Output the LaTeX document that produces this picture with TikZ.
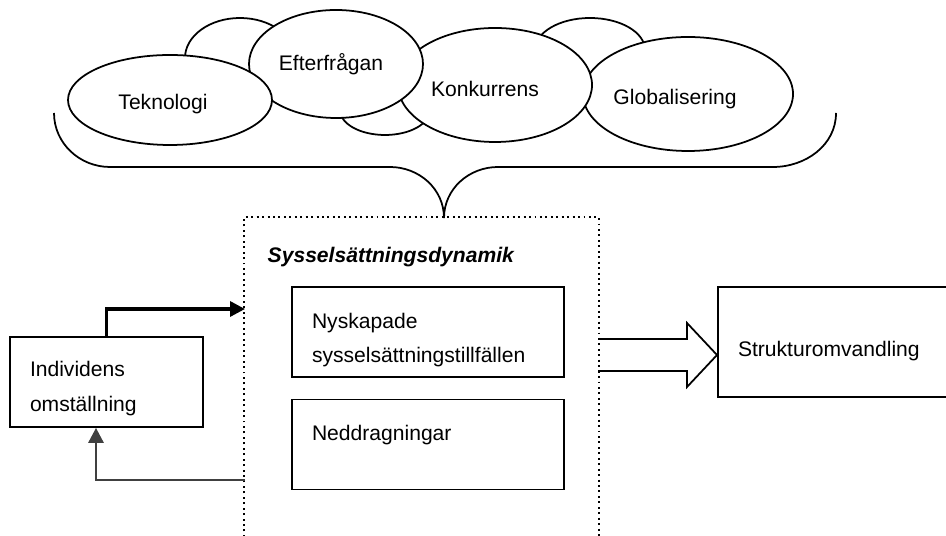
\documentclass[tikz,border=0pt]{standalone}
\usepackage{fontspec}
\setmainfont{Liberation Sans}
\usepackage{tikz}
\usetikzlibrary{arrows.meta,positioning,calc,shapes.geometric}

\begin{document}
\begin{tikzpicture}[>=Triangle, font=\fontsize{12}{19.5}\selectfont, line width=1pt,
  cloud/.style={draw, ellipse, fill=white, inner sep=0pt},
  box/.style={draw, align=left, inner xsep=0.4cm, minimum height=1.8cm}]
\useasboundingbox (0,0) rectangle (18.92,10.72);

% forces behind the brace (back ones first)
\node[cloud,minimum width=2.2cm,minimum height=1.6cm] (bak1) at (4.8,9.56) {};
\node[cloud,minimum width=1.8cm,minimum height=1.0cm] (bak2) at (7.7,8.52) {};
\node[cloud,minimum width=2.2cm,minimum height=1.28cm] (bak3) at (11.8,9.72) {};
\node[cloud,minimum width=4.2cm,minimum height=2.28cm] (glo) at (13.76,8.84) {};
\node[cloud,minimum width=3.88cm,minimum height=2.28cm] (kon) at (9.9,9.02) {};
\node[cloud,minimum width=3.48cm,minimum height=2.16cm] (eft) at (6.72,9.44) {};
\node[cloud,minimum width=4.08cm,minimum height=1.8cm] (tek) at (3.4,8.72) {};
\node (glot) at (13.5,8.74) {Globalisering};
\node (kont) at (9.7,8.94) {Konkurrens};
\node (eftt) at (6.62,9.44) {Efterfrågan};
\node (tekt) at (3.26,8.64) {Teknologi};

% brace
\draw (1.08,8.46) to[out=-90,in=180] (2.2,7.38) -- (7.8,7.38)
  to[out=0,in=90] (8.88,6.36) to[out=90,in=180] (9.96,7.38) -- (15.46,7.38)
  to[out=0,in=-90] (16.72,8.46);

% dynamics frame
\node[minimum width=7.06cm,minimum height=6.36cm,inner sep=0pt] (dyn) at (8.43,3.18) {};
\draw[dotted,line width=1.1pt] (dyn.south west) -- (dyn.north west) -- (dyn.north east) -- (dyn.south east);
\node[anchor=west,font=\fontsize{12}{19}\selectfont\bfseries\itshape] (dyntitle) at (5.22,5.58) {Sysselsättningsdynamik};
\node[box,text width=4.64cm] (nya) at (8.56,4.08) {\rule{0pt}{17.8pt}Nyskapade\\sysselsättningstillfällen};
\node[box,text width=4.64cm] (ned) at (8.56,1.83) {\rule{0pt}{14.4pt}Neddragningar\\\mbox{}};

\node[box,text width=3.06cm] (ind) at (2.13,3.08) {\rule{0pt}{16.1pt}Individens\\omställning};
\node[box,text width=4.1cm,minimum height=2.2cm] (struk) at (16.81,3.88) {\rule{0pt}{19pt}Strukturomvandling};

\coordinate (dynin) at (4.9,4.54);
\coordinate (dynout) at (4.9,1.12);
\draw[->,line width=1.9pt,arrows={-Triangle[length=0.3cm,width=0.3cm]}] (ind.north) |- (dynin);
\draw[->,line width=1.6pt,black!75,arrows={-Triangle[length=0.3cm,width=0.3cm]}] (dynout) -| ([xshift=-0.21cm]ind.south);

% block arrow to the right
\coordinate (tip) at (14.34,3.62);
\draw ($(tip)+(-2.38,0.32)$) -- ($(tip)+(-0.6,0.32)$) -- ($(tip)+(-0.6,0.64)$) -- (tip)
  -- ($(tip)+(-0.6,-0.64)$) -- ($(tip)+(-0.6,-0.32)$) -- ($(tip)+(-2.38,-0.32)$);
\end{tikzpicture}
\end{document}
